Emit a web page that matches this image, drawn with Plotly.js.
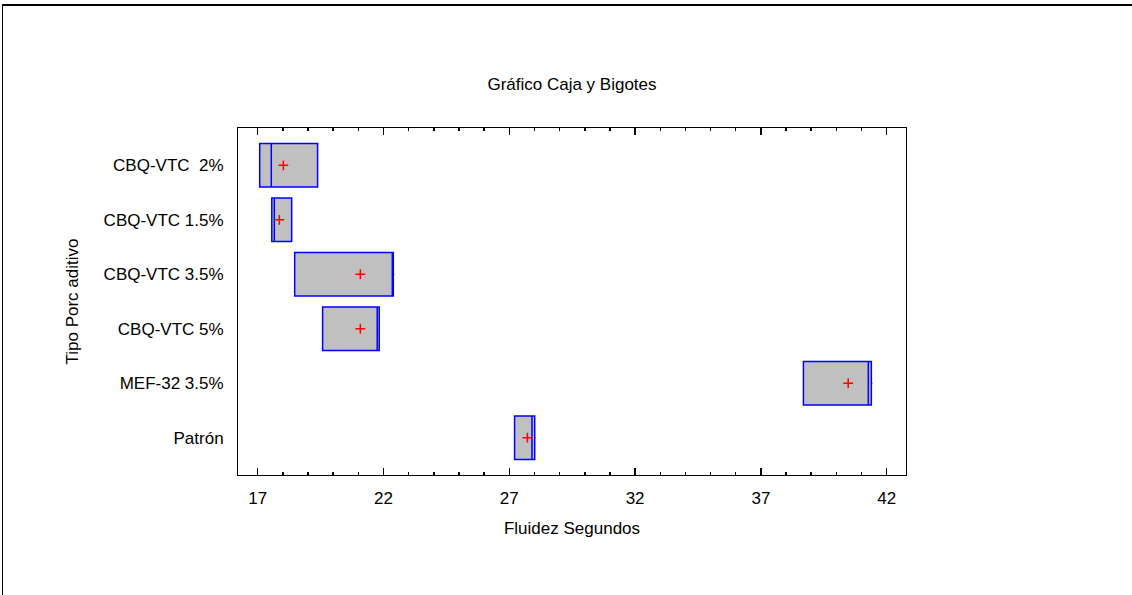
<!DOCTYPE html>
<html>
<head>
<meta charset="utf-8">
<script src="https://cdn.plot.ly/plotly-3.0.1.min.js"></script>
<style>
  html, body { margin: 0; padding: 0; background: #fff; }
  #wrap { position: relative; width: 1132px; height: 595px; overflow: hidden; }
  #chart { position: absolute; left: 0; top: 0; width: 1132px; height: 595px; }
  #frame { position: absolute; left: 2px; top: 4px; width: 1140px; height: 600px;
           border-top: 2px solid #000; border-left: 1px solid #000; pointer-events: none; }
</style>
</head>
<body>
<div id="wrap">
  <div id="chart"></div>
  <div id="frame"></div>
</div>
<script>
// Categories, top to bottom
const categories = ["CBQ-VTC\u00a0 2%", "CBQ-VTC 1.5%", "CBQ-VTC 3.5%", "CBQ-VTC 5%", "MEF-32 3.5%", "Patrón"];
// Box statistics (Fluidez, segundos)
const minimum = [17.08, 17.56, 18.47, 19.58, 38.69, 27.21];
const q1      = [17.08, 17.56, 18.47, 19.58, 38.69, 27.21];
const median  = [17.54, 17.66, 22.37, 21.75, 41.27, 27.90];
const q3      = [19.38, 18.35, 22.39, 21.83, 41.39, 28.01];
const maximum = [19.38, 18.35, 22.43, 21.86, 41.43, 28.05];
const means   = [18.02, 17.86, 21.08, 21.08, 40.47, 27.72];

const FONT = "'Liberation Sans', Arial, sans-serif";
const FS = 17;

const boxTrace = {
  type: "box",
  orientation: "h",
  y: categories,
  lowerfence: minimum,
  q1: q1,
  median: median,
  q3: q3,
  upperfence: maximum,
  boxpoints: false,
  width: 0.8,
  whiskerwidth: 0,
  fillcolor: "#c0c0c0",
  line: { color: "#0000ff", width: 1.5 },
  hoverinfo: "skip",
  showlegend: false
};

const meanTrace = {
  type: "scatter",
  mode: "markers",
  x: means,
  y: categories,
  marker: { symbol: "cross-thin", size: 7, color: "#ff0000", line: { color: "#ff0000", width: 1.5 } },
  hoverinfo: "skip",
  showlegend: false
};

const layout = {
  width: 1132,
  height: 595,
  paper_bgcolor: "#ffffff",
  plot_bgcolor: "#ffffff",
  margin: { l: 238, r: 226, t: 128, b: 120, pad: 0 },
  font: { family: FONT, size: FS, color: "#000" },
  title: {
    text: "Gráfico Caja y Bigotes",
    font: { family: FONT, size: FS, color: "#000" },
    x: 0.5, xref: "paper", xanchor: "center",
    y: 1 - 84 / 595, yref: "container", yanchor: "middle"
  },
  xaxis: {
    range: [16.217, 42.767],
    tick0: 17, dtick: 5,
    ticks: "inside", ticklen: 7, tickwidth: 1.5, tickcolor: "#000",
    minor: { dtick: 1, ticks: "inside", ticklen: 3, tickwidth: 1.5, tickcolor: "#000" },
    showline: true, linecolor: "#000", linewidth: 1, mirror: "ticks",
    showgrid: false, zeroline: false,
    ticklabelstandoff: 8,
    tickfont: { family: FONT, size: FS, color: "#000" },
    title: { text: "Fluidez Segundos", font: { family: FONT, size: FS, color: "#000" }, standoff: 14 }
  },
  yaxis: {
    type: "category",
    categoryorder: "array",
    categoryarray: categories,
    range: [5.685, -0.685],
    ticks: "",
    showline: true, linecolor: "#000", linewidth: 1, mirror: true,
    showgrid: false, zeroline: false,
    ticklabelstandoff: 10,
    tickfont: { family: FONT, size: FS, color: "#000" },
    title: { text: "Tipo Porc aditivo", font: { family: FONT, size: FS, color: "#000" }, standoff: 20 }
  }
};

Plotly.newPlot("chart", [boxTrace, meanTrace], layout, { staticPlot: true, displayModeBar: false });
</script>
</body>
</html>
